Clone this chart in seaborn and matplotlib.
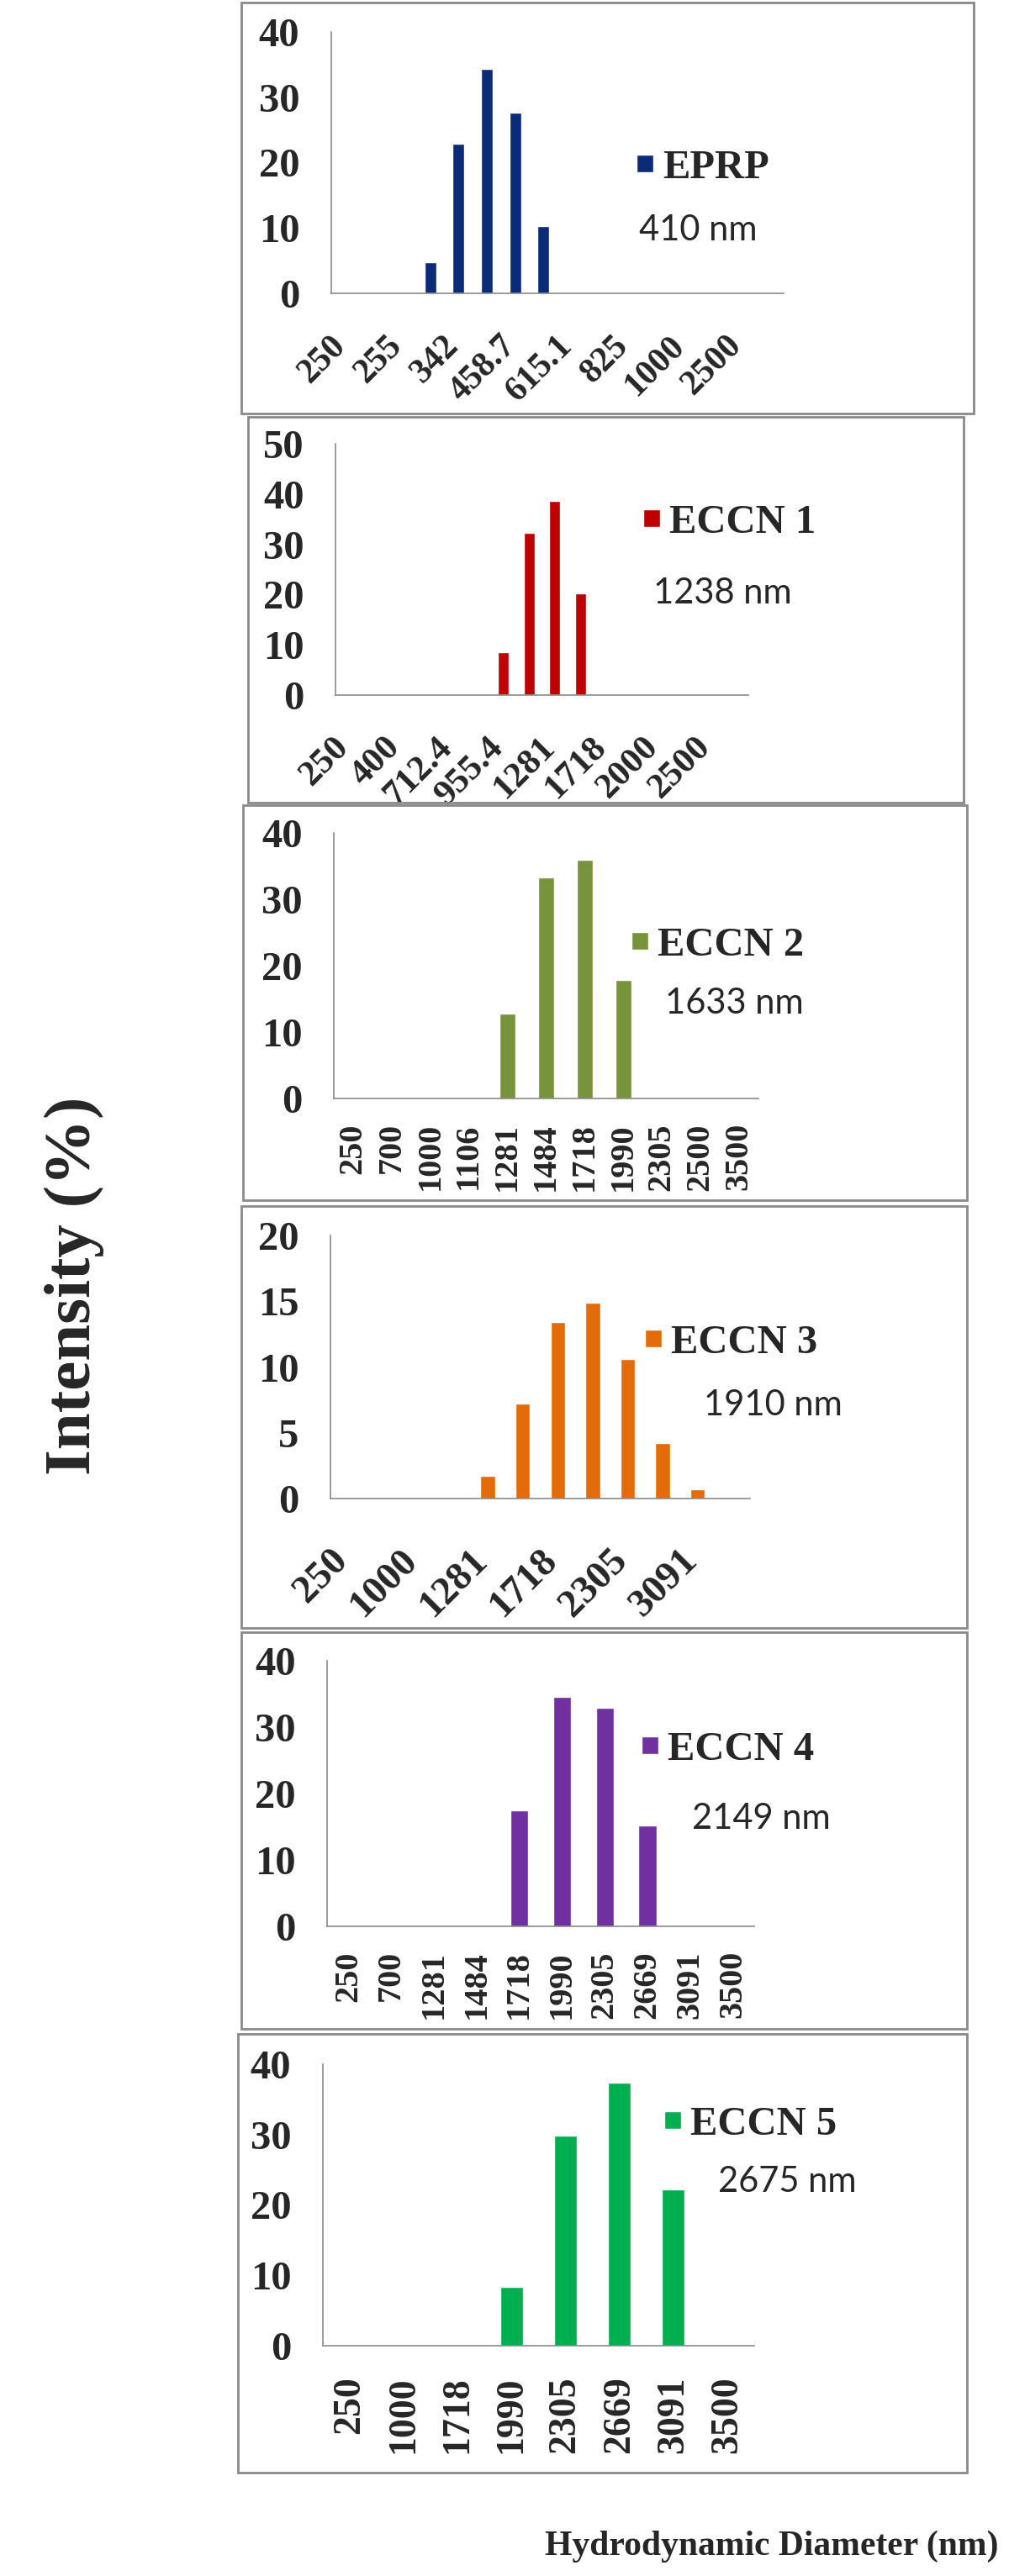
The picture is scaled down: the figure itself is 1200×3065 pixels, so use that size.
import numpy as np
import matplotlib
matplotlib.use("Agg")
import matplotlib.pyplot as plt
import matplotlib.transforms as mtransforms
from matplotlib.patches import Patch, Rectangle
import seaborn as sns

sns.set_style("white")
plt.rcParams['font.family'] = ['Liberation Serif', 'DejaVu Serif']
plt.rcParams['font.weight'] = 'bold'

# Data
names = ["EPRP", "ECCN 1", "ECCN 2", "ECCN 3", "ECCN 4", "ECCN 5"]
sizes = ["410 nm", "1238 nm", "1633 nm", "1910 nm", "2149 nm", "2675 nm"]

eprp_labels = ["250", "", "255", "", "342", "", "458.7", "", "615.1", "", "825", "", "1000", "", "2500", ""]
eprp_vals = [0, 0, 0, 4.8, 22.9, 34.4, 27.6, 10.3, 0, 0, 0, 0, 0, 0, 0, 0]

eccn1_labels = ["250", "", "400", "", "712.4", "", "955.4", "", "1281", "", "1718", "", "2000", "", "2500", ""]
eccn1_vals = [0, 0, 0, 0, 0, 0, 8.6, 32.3, 38.7, 20.3, 0, 0, 0, 0, 0, 0]

eccn2_labels = ["250", "700", "1000", "1106", "1281", "1484", "1718", "1990", "2305", "2500", "3500"]
eccn2_vals = [0, 0, 0, 0, 12.8, 33.3, 36.0, 17.8, 0, 0, 0]

eccn3_labels = ["250", "", "1000", "", "1281", "", "1718", "", "2305", "", "3091", ""]
eccn3_vals = [0, 0, 0, 0, 1.7, 7.2, 13.4, 14.9, 10.6, 4.2, 0.7, 0]

eccn4_labels = ["250", "700", "1281", "1484", "1718", "1990", "2305", "2669", "3091", "3500"]
eccn4_vals = [0, 0, 0, 0, 17.5, 34.6, 32.9, 15.2, 0, 0]

eccn5_labels = ["250", "1000", "1718", "1990", "2305", "2669", "3091", "3500"]
eccn5_vals = [0, 0, 0, 8.3, 29.8, 37.4, 22.2, 0]

y_max = [40, 50, 40, 20, 40, 40]
y_step = [10, 10, 10, 5, 10, 10]

colors = ["#0B2B78", "#C00000", "#77933C", "#E36C09", "#7030A0", "#00B050"]

all_labels = [eprp_labels, eccn1_labels, eccn2_labels, eccn3_labels, eccn4_labels, eccn5_labels]
all_vals = [eprp_vals, eccn1_vals, eccn2_vals, eccn3_vals, eccn4_vals, eccn5_vals]

# layout in pixels (figure 1200 x 3065)
W, H = 1200, 3065
axes_px = [(394, 932, 349, 38), (399, 890, 827, 528), (397, 902, 1307, 991),
           (393, 892, 1783, 1470), (389, 897, 2292, 1976), (384, 897, 2791, 2456)]
frames_px = [(287, 3, 1158, 492), (295, 496, 1146, 955), (289, 958, 1150, 1428),
             (287, 1435, 1150, 1937), (287, 1942, 1150, 2414), (283, 2420, 1150, 2942)]
legend_px = [(757, 200), (765, 622), (751, 1125), (767, 1598), (763, 2082), (790, 2528)]
size_px = [(760, 274), (777, 706), (791, 1194), (837, 1672), (823, 2164), (854, 2596)]
rot = [45, 45, 90, 45, 90, 90]
xfs = [30, 31, 29, 34, 29, 33]
xpad = [24, 24, 14, 31, 14, 19]

gray = "#8a8a8a"

fig = plt.figure(figsize=(W / 100, H / 100), dpi=100)

for i in range(6):
    x0, x1, yb, yt = axes_px[i]
    ax = fig.add_axes([x0 / W, 1 - yb / H, (x1 - x0) / W, (yb - yt) / H])
    n = len(all_vals[i])
    sns.barplot(x=list(range(n)), y=all_vals[i], color=colors[i], width=0.42,
                saturation=1, ax=ax)
    ax.set_xlim(-0.5, n - 0.5)
    ax.set_ylim(0, y_max[i])
    ax.set_yticks(np.arange(0, y_max[i] + 1, y_step[i]))
    ax.tick_params(axis='y', length=13, width=1.2, color=gray, pad=14, labelsize=35)
    ax.set_xticks(range(n))
    ax.set_xticks(np.arange(-0.5, n, 1), minor=True)
    ax.tick_params(axis='x', which='minor', length=10, width=1.2, color=gray)
    ax.tick_params(axis='x', which='major', length=0, pad=xpad[i] + 7, labelsize=xfs[i])
    if rot[i] == 45:
        ax.set_xticklabels(all_labels[i], rotation=45, ha='right', va='top')
        off = mtransforms.ScaledTranslation(8 / 100, 0, fig.dpi_scale_trans)
        for lab in ax.get_xticklabels():
            lab.set_transform(lab.get_transform() + off)
    else:
        ax.set_xticklabels(all_labels[i], rotation=90, ha='center', va='top')
    ax.set_xlabel("")
    ax.set_ylabel("")
    for s in ['top', 'right']:
        ax.spines[s].set_visible(False)
    for s in ['left', 'bottom']:
        ax.spines[s].set_color(gray)
        ax.spines[s].set_linewidth(1.2)
    ax.patch.set_alpha(0)

    lx, ly = legend_px[i]
    ax.legend(handles=[Patch(facecolor=colors[i], label=names[i])],
              loc='center left', bbox_to_anchor=(lx / W, 1 - ly / H),
              bbox_transform=fig.transFigure, frameon=False, fontsize=35,
              handlelength=0.42, handleheight=0.3, handletextpad=0.22,
              borderpad=0, borderaxespad=0)
    sx, sy = size_px[i]
    fig.text(sx / W, 1 - sy / H, sizes[i], family='Lato', weight='normal',
             fontsize=30, ha='left', va='center')

    fx0, fy0, fx1, fy1 = frames_px[i]
    fig.patches.append(Rectangle((fx0 / W, 1 - fy1 / H), (fx1 - fx0) / W, (fy1 - fy0) / H,
                                 transform=fig.transFigure, fill=False,
                                 edgecolor=gray, linewidth=2))

fig.text(88 / W, 1 - 1530 / H, "Intensity (%)", rotation=90, ha='center', va='center',
         fontsize=57, weight='bold')
fig.text(918 / W, 1 - 3030 / H, "Hydrodynamic Diameter (nm)", ha='center', va='center',
         fontsize=30, weight='bold')

fig.savefig("out.png", dpi=100)
